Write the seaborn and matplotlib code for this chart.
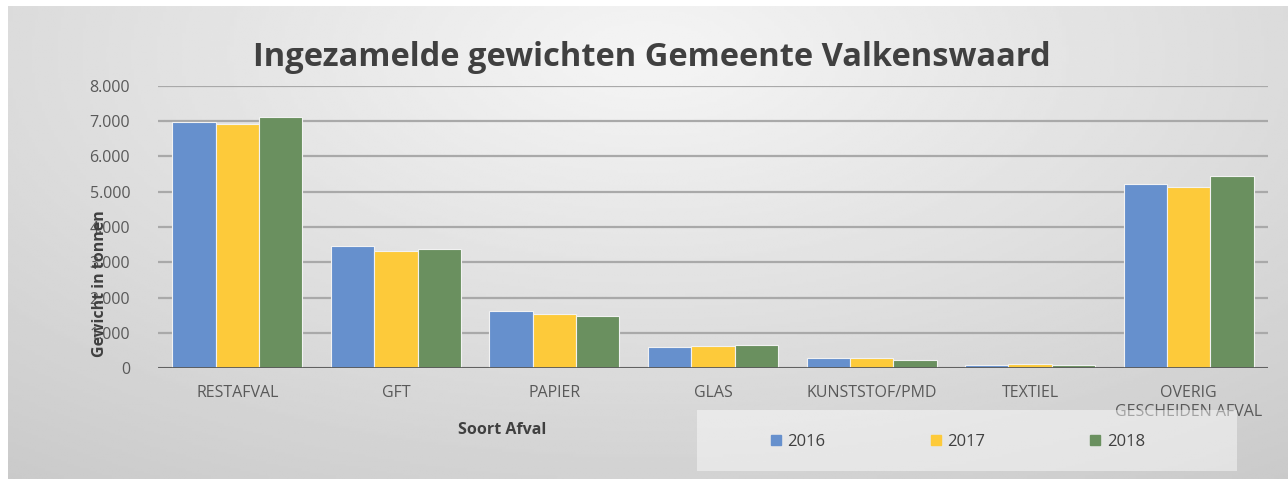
import numpy as np
import pandas as pd
import matplotlib
matplotlib.use("Agg")
import matplotlib.pyplot as plt
import matplotlib.ticker as mticker
from matplotlib.patches import Rectangle
import seaborn as sns

# data (tonnes)
categories = ["RESTAFVAL", "GFT", "PAPIER", "GLAS", "KUNSTSTOF/PMD", "TEXTIEL",
              "OVERIG\nGESCHEIDEN AFVAL"]
years = ["2016", "2017", "2018"]
w2016 = [6980, 3460, 1630, 590, 270, 90, 5220]
w2017 = [6930, 3320, 1540, 620, 280, 100, 5140]
w2018 = [7130, 3370, 1470, 650, 240, 80, 5450]
colors = ["#6690CD", "#FDCA3A", "#6A905F"]

df = pd.DataFrame({"Soort": categories * 3,
                   "Jaar": [y for y in years for _ in categories],
                   "Gewicht": w2016 + w2017 + w2018})

sns.set_style("white")
plt.rcParams["font.family"] = ["Open Sans", "DejaVu Sans"]

W, H = 1288, 479
fig = plt.figure(figsize=(W / 100, H / 100), dpi=100, facecolor="white")

# grey gradient background of the chart area
bg = fig.add_axes([8 / W, 0, 1 - 8 / W, 1 - 6 / H], zorder=-10)
yy, xx = np.mgrid[0:1:200j, 0:1:400j]
r = np.sqrt(((xx - 0.5) / 0.75) ** 2 + ((yy - 0.1) / 1.0) ** 2)
bg.imshow(0.96 - 0.15 * r, cmap="gray", vmin=0, vmax=1, aspect="auto",
          extent=[0, 1, 1, 0])
bg.set_axis_off()

ax = fig.add_axes([158 / W, 1 - 368 / H, (1268 - 158) / W, (368 - 86) / H])
ax.patch.set_alpha(0)
sns.barplot(data=df, x="Soort", y="Gewicht", hue="Jaar", palette=colors,
            width=0.82, saturation=1, ax=ax, legend=False, zorder=3,
            edgecolor="#F2F2F2", linewidth=0.8)

ax.set_ylim(0, 8000)
ax.set_xlim(-0.5, 6.5)
ax.yaxis.set_major_locator(mticker.MultipleLocator(1000))
ax.yaxis.set_major_formatter(mticker.FuncFormatter(
    lambda v, p: f"{int(v):,}".replace(",", ".")))
ax.grid(axis="y", color="#A9A9A9", linewidth=1.6, zorder=0)
ax.set_axisbelow(True)
for s in ax.spines.values():
    s.set_visible(False)
ax.axhline(0, color="#595959", linewidth=2.0, zorder=4)
ax.tick_params(axis="both", length=0, labelsize=11.5, colors="#595959")
ax.tick_params(axis="y", pad=20)
ax.tick_params(axis="x", pad=12)
for lab in ax.get_xticklabels():
    lab.set_linespacing(1.25)

ax.set_xlabel("Soort Afval", fontsize=11.5, fontweight="bold", color="#404040")
ax.xaxis.set_label_coords(0.31, -0.19)
# the y label sits on top of the tick labels, as in the original
ax.set_ylabel("Gewicht in tonnen", fontsize=11.5, fontweight="bold",
              color="#404040")
ax.yaxis.set_label_coords(-0.045, 0.3)

fig.text(0.506, 1 - 57 / H, "Ingezamelde gewichten Gemeente Valkenswaard",
         ha="center", va="center", fontsize=23.5, fontweight="bold",
         color="#404040")

# legend box, semi transparent over the last tick label
box = Rectangle((697 / W, 1 - 471 / H), (1237 - 697) / W, (471 - 410) / H,
                transform=fig.transFigure, facecolor="white", alpha=0.45,
                edgecolor="none", zorder=10)
fig.add_artist(box)
handles = [Rectangle((0, 0), 1, 1, color=c) for c in colors]
leg = fig.legend(handles, years, loc="center",
                 bbox_to_anchor=(958 / W, 1 - 442 / H),
                 ncol=3, frameon=False, fontsize=12, handlelength=0.6,
                 handleheight=0.6, handletextpad=0.4, columnspacing=6.3,
                 labelcolor="#404040")
leg.set_zorder(11)

fig.savefig("out.png", dpi=100, facecolor="white")
